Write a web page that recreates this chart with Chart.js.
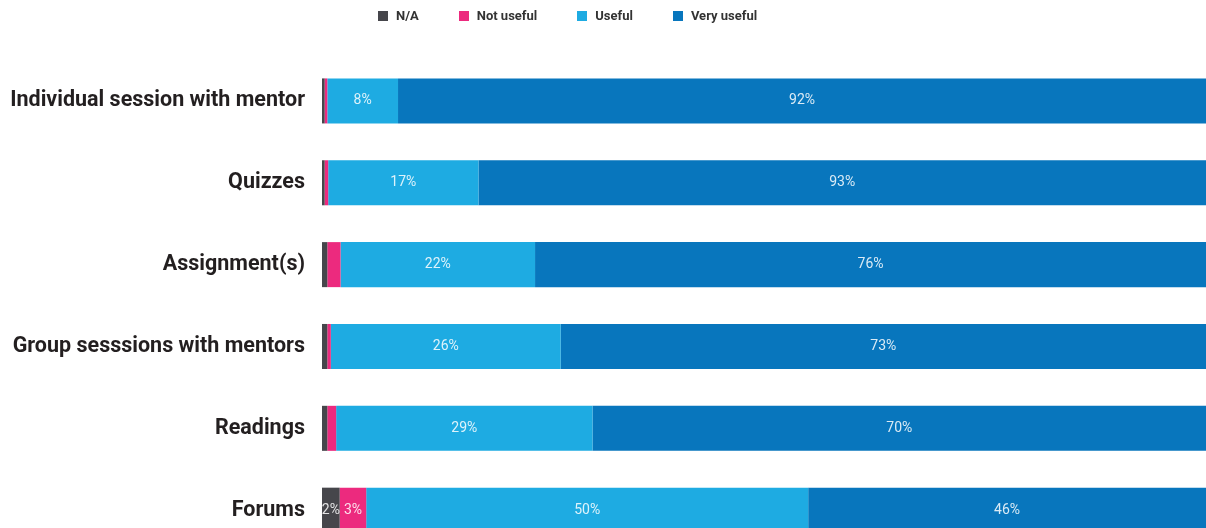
<!DOCTYPE html>
<html>
<head>
<meta charset="utf-8">
<script src="https://cdn.jsdelivr.net/npm/chart.js@4.4.1/dist/chart.umd.min.js"></script>
<style>
    html, body { margin: 0; padding: 0; background: #fff; overflow: hidden; }
    #wrap { position: relative; width: 1206px; height: 573px; }
    #legend { position: absolute; left: 378px; top: 8px; display: flex; font: bold 13px Roboto, sans-serif; color: #333; }
    #legend .item { display: flex; align-items: center; margin-right: 40px; }
    #legend .box { width: 10px; height: 10px; margin-right: 8px; }
    canvas { display: block; }
</style>
</head>
<body>
<div id="wrap">
    <div id="legend"></div>
    <canvas id="myChart" width="1206" height="573"></canvas>
</div>
<script>
// categories
const categories = ['Individual session with mentor', 'Quizzes', 'Assignment(s)', 'Group sesssions with mentors', 'Readings', 'Forums'];

// series values (% of respondents)
const naValues = [0.3, 0.3, 0.6, 0.6, 0.6, 2];
const notUsefulValues = [0.3, 0.4, 1.5, 0.4, 1.0, 3];
const usefulValues = [8, 17, 22, 26, 29, 50];
const veryUsefulValues = [92, 93, 76, 73, 70, 46];

const seriesLabels = ['N/A', 'Not useful', 'Useful', 'Very useful'];
const seriesColors = ['#46464b', '#ec2a7e', '#1eabe2', '#0876bd'];
const seriesValues = [naValues, notUsefulValues, usefulValues, veryUsefulValues];

// value labels drawn in the middle of the visible part of each segment
const barLabels = {
    id: 'barLabels',
    afterDatasetsDraw(chart) {
        const ctx = chart.ctx;
        const area = chart.chartArea;
        ctx.save();
        ctx.font = '14px Roboto, sans-serif';
        ctx.fillStyle = 'rgba(255,255,255,0.85)';
        ctx.textAlign = 'center';
        ctx.textBaseline = 'middle';
        chart.data.datasets.forEach((ds, i) => {
            chart.getDatasetMeta(i).data.forEach((bar, j) => {
                const v = ds.data[j];
                if (v < 2) return;
                const x0 = Math.min(bar.base, bar.x);
                const x1 = Math.min(Math.max(bar.base, bar.x), area.right);
                ctx.fillText(Math.round(v) + '%', (x0 + x1) / 2, bar.y);
            });
        });
        ctx.restore();
    }
};

const ctx = document.getElementById('myChart').getContext('2d');

const chart = new Chart(ctx, {
    type: 'bar',
    data: {
        labels: categories,
        datasets: seriesLabels.map((label, i) => ({
            label: label,
            data: seriesValues[i],
            backgroundColor: seriesColors[i],
            borderWidth: 0,
            categoryPercentage: 0.55,
            barPercentage: 1
        }))
    },
    options: {
        indexAxis: 'y',
        responsive: false,
        animation: false,
        layout: {
            padding: { top: 60, right: 0, bottom: 0, left: 0 }
        },
        scales: {
            x: {
                stacked: true,
                min: 0,
                max: 100,
                display: false
            },
            y: {
                stacked: true,
                grid: { display: false },
                border: { display: false },
                ticks: {
                    color: '#231f20',
                    padding: 9,
                    font: { family: 'Roboto', size: 21.5, weight: 'bold' }
                },
                afterFit(scale) {
                    scale.width = 322;
                }
            }
        },
        plugins: {
            legend: { display: false },
            tooltip: { enabled: false }
        }
    },
    plugins: [barLabels]
});

// html legend
const legend = document.getElementById('legend');
seriesLabels.forEach((label, i) => {
    const item = document.createElement('div');
    item.className = 'item';
    const box = document.createElement('span');
    box.className = 'box';
    box.style.background = seriesColors[i];
    const text = document.createElement('span');
    text.textContent = label;
    item.appendChild(box);
    item.appendChild(text);
    legend.appendChild(item);
});
</script>
</body>
</html>
